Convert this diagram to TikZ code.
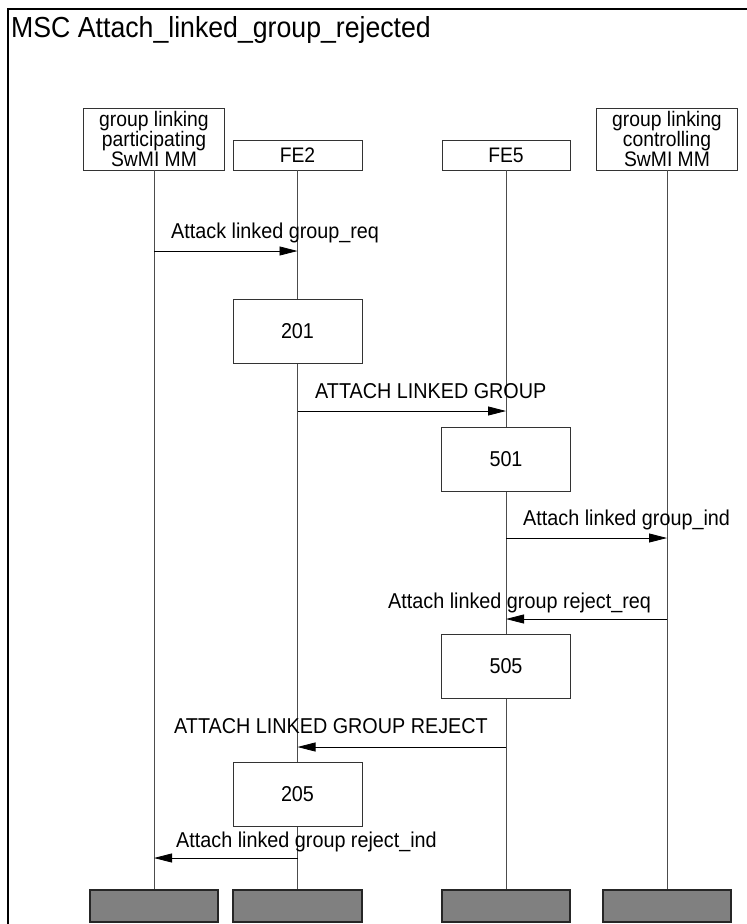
\documentclass[tikz,border=0pt]{standalone}
\usepackage{fontspec}
\setmainfont{Liberation Sans}[FakeStretch=0.92]
\usetikzlibrary{arrows.meta,positioning}

\begin{document}
\begin{tikzpicture}[x=1pt, y=-1pt, font=\fontsize{21.5}{21.5}\selectfont,
  inst/.style={draw=black!80, fill=white, inner sep=0pt, align=center, minimum width=141pt, font=\fontsize{21}{18.5}\selectfont},
  action/.style={draw=black!80, fill=white, minimum width=129pt, minimum height=64pt, inner sep=0pt},
  stopbox/.style={draw=black!85, line width=1.4pt, fill=black!50, minimum width=128pt, minimum height=32pt, inner sep=0pt},
  life/.style={draw=black!70, line width=0.8pt},
  msg/.style={-{Triangle[length=18pt,width=9pt]}, line width=0.8pt, draw=black},
  lbl/.style={anchor=base west, inner sep=0pt}]
  \useasboundingbox (0,0) rectangle (747,924);
  % frame and title
  \draw[line width=1.2pt] (8,924) -- (8,9) -- (747,9);
  \node[lbl, font=\fontsize{29}{29}\selectfont] (title) at (11,37) {MSC Attach\_linked\_group\_rejected};
  % instances
  \node[inst, minimum height=62pt] (part) at (154,139) {group linking\\participating\\SwMI MM};
  \node[inst, minimum width=129pt, minimum height=30pt] (fe2) at (297.5,155) {FE2};
  \node[inst, minimum width=128pt, minimum height=30pt] (fe5) at (506,155) {FE5};
  \node[inst, minimum height=62pt] (ctrl) at (667,139) {group linking\\controlling\\SwMI MM};
  \node[stopbox] (part-end) at (154,906) {};
  \node[stopbox, minimum width=129pt] (fe2-end) at (297.5,906) {};
  \node[stopbox] (fe5-end) at (506,906) {};
  \node[stopbox] (ctrl-end) at (667,906) {};
  \draw[life] (part) -- (part-end);
  \draw[life] (fe2) -- (fe2-end);
  \draw[life] (fe5) -- (fe5-end);
  \draw[life] (ctrl) -- (ctrl-end);
  % actions
  \node[action] (a201) at (297.5,331) {201};
  \node[action] (a501) at (506,459) {501};
  \node[action] (a505) at (506,666) {505};
  \node[action] (a205) at (297.5,794) {205};
  % message levels
  \coordinate (y1) at (0,251);
  \coordinate (y2) at (0,411);
  \coordinate (y3) at (0,538);
  \coordinate (y4) at (0,619);
  \coordinate (y5) at (0,747);
  \coordinate (y6) at (0,858);
  % messages
  \draw[msg] (part |- y1) -- (fe2 |- y1);
  \node[lbl] (l1) at (171,238) {Attack linked group\_req};
  \draw[msg] (fe2 |- y2) -- (fe5 |- y2);
  \node[lbl] (l2) at (315,398) {ATTACH LINKED GROUP};
  \draw[msg] (fe5 |- y3) -- (ctrl |- y3);
  \node[lbl] (l3) at (523,525) {Attach linked group\_ind};
  \draw[msg] (ctrl |- y4) -- (fe5 |- y4);
  \node[lbl] (l4) at (388,608) {Attach linked group reject\_req};
  \draw[msg] (fe5 |- y5) -- (fe2 |- y5);
  \node[lbl] (l5) at (174,733) {ATTACH LINKED GROUP REJECT};
  \draw[msg] (fe2 |- y6) -- (part |- y6);
  \node[lbl] (l6) at (176,847) {Attach linked group reject\_ind};
\end{tikzpicture}
\end{document}
